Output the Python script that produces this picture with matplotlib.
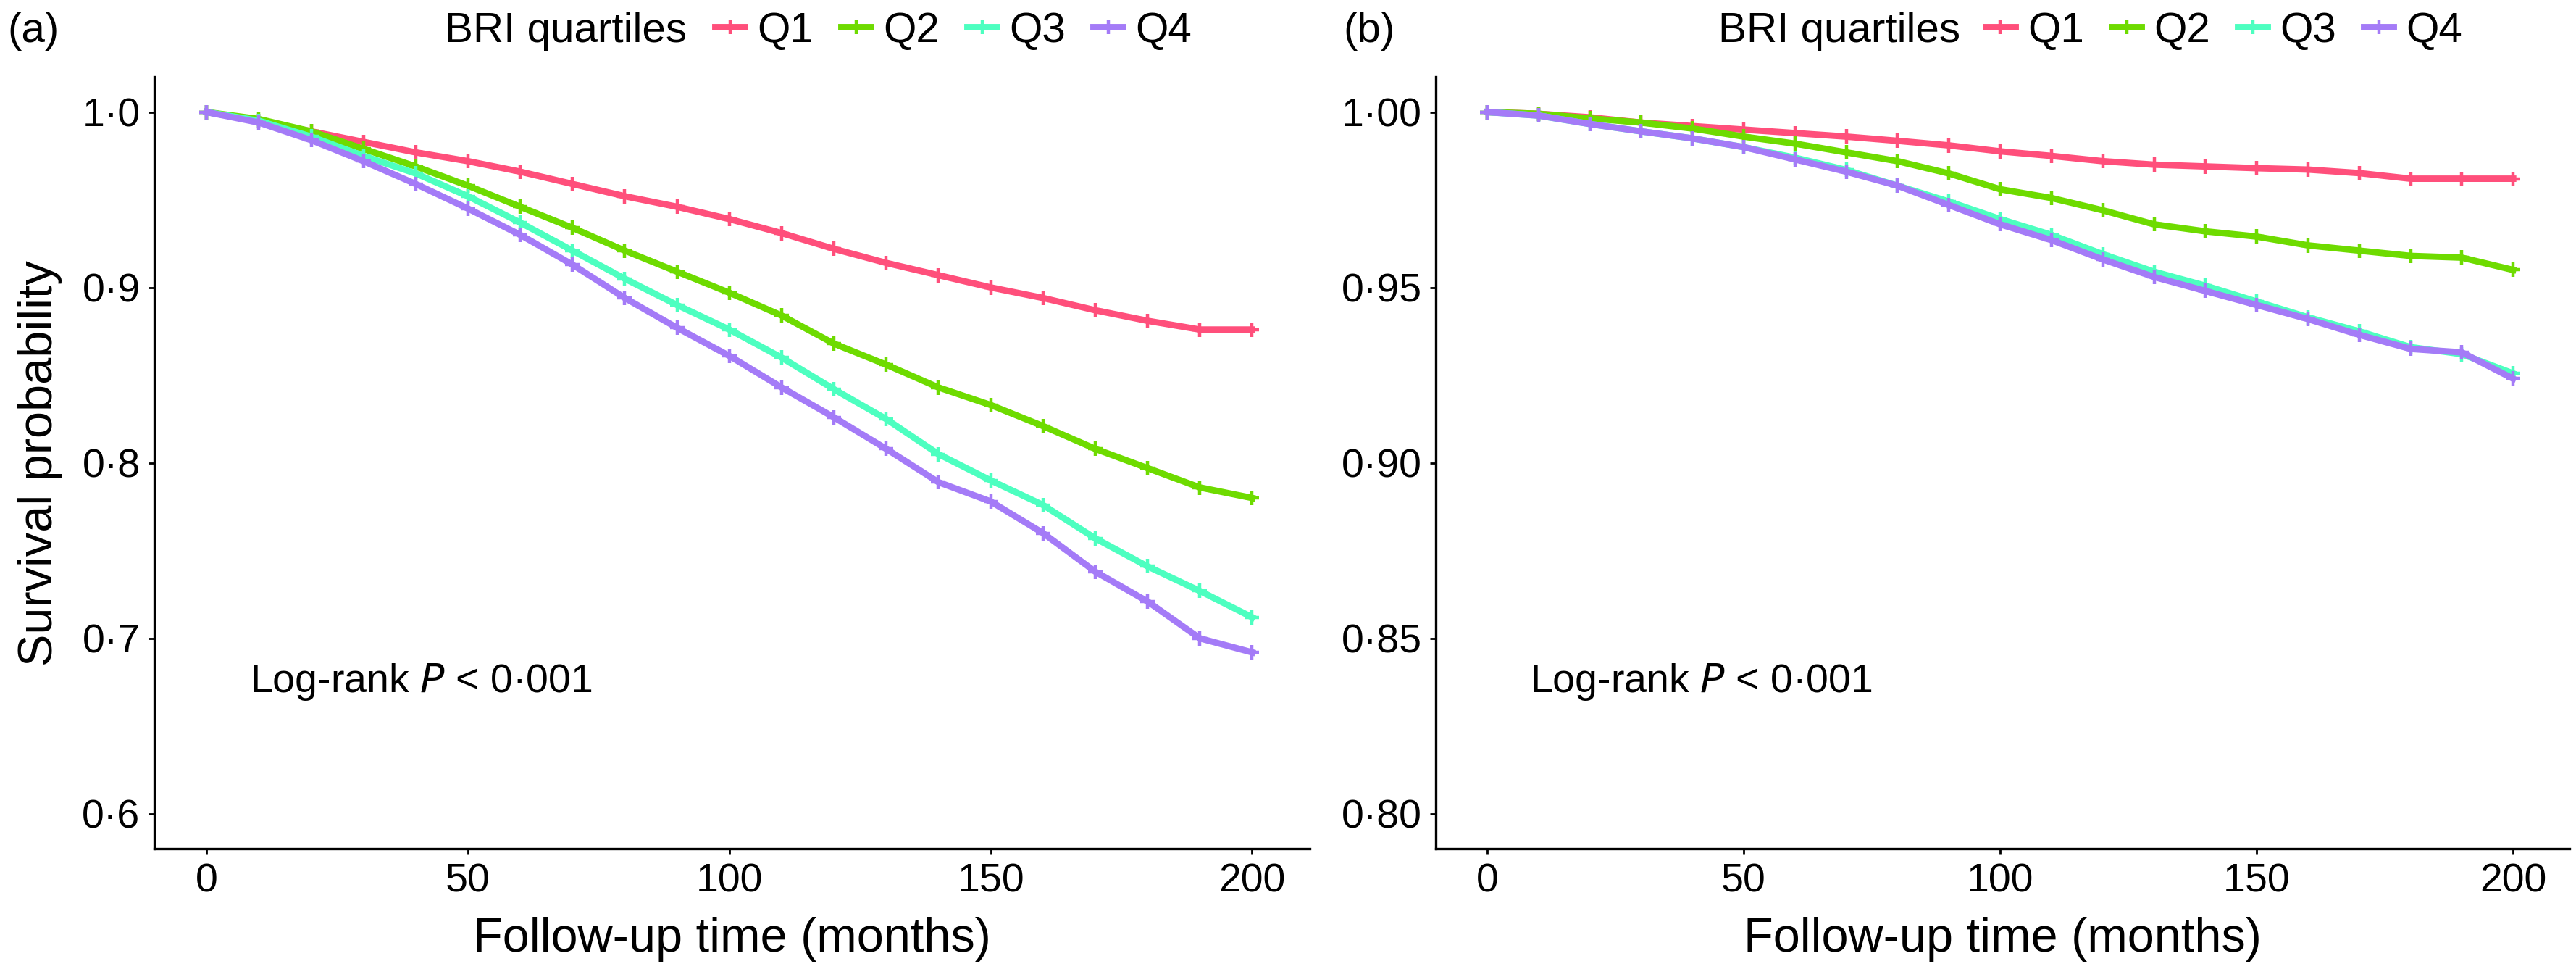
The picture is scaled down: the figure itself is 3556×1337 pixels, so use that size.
import matplotlib
matplotlib.use("Agg")
import matplotlib.pyplot as plt

plt.rcParams["font.family"] = ["Liberation Sans", "DejaVu Sans"]

# follow-up time (months)
months = [0, 10, 20, 30, 40, 50, 60, 70, 80, 90, 100,
          110, 120, 130, 140, 150, 160, 170, 180, 190, 200]

groups = ["Q1", "Q2", "Q3", "Q4"]
colors = ["#FF4F7B", "#6EDB00", "#4DFFC0", "#A47BF7"]

# panel (a)
surv_a_q1 = [1.000, 0.995, 0.989, 0.983, 0.977, 0.972, 0.966, 0.959, 0.952, 0.946, 0.939,
             0.931, 0.922, 0.914, 0.907, 0.900, 0.894, 0.887, 0.881, 0.876, 0.876]
surv_a_q2 = [1.000, 0.996, 0.989, 0.979, 0.969, 0.958, 0.946, 0.934, 0.921, 0.909, 0.897,
             0.884, 0.868, 0.856, 0.843, 0.833, 0.821, 0.808, 0.797, 0.786, 0.780]
surv_a_q3 = [1.000, 0.995, 0.986, 0.975, 0.965, 0.952, 0.937, 0.921, 0.905, 0.890, 0.876,
             0.860, 0.842, 0.825, 0.805, 0.790, 0.776, 0.757, 0.741, 0.727, 0.712]
surv_a_q4 = [1.000, 0.994, 0.984, 0.972, 0.959, 0.945, 0.930, 0.913, 0.894, 0.877, 0.861,
             0.843, 0.826, 0.808, 0.789, 0.778, 0.760, 0.738, 0.721, 0.700, 0.692]

# panel (b)
surv_b_q1 = [1.000, 0.9995, 0.9985, 0.997, 0.996, 0.995, 0.994, 0.993, 0.9918, 0.9905, 0.9888,
             0.9875, 0.986, 0.985, 0.9845, 0.984, 0.9836, 0.9826, 0.981, 0.981, 0.981]
surv_b_q2 = [1.000, 0.9995, 0.9982, 0.997, 0.9953, 0.993, 0.991, 0.9885, 0.986, 0.9825, 0.978,
             0.9755, 0.972, 0.968, 0.966, 0.9645, 0.962, 0.9605, 0.959, 0.9585, 0.955]
surv_b_q3 = [1.000, 0.999, 0.9966, 0.9945, 0.9925, 0.990, 0.987, 0.9835, 0.979, 0.9745, 0.9695,
             0.965, 0.9595, 0.9545, 0.9505, 0.946, 0.9415, 0.9375, 0.933, 0.931, 0.9255]
surv_b_q4 = [1.000, 0.999, 0.9966, 0.9945, 0.9925, 0.990, 0.9865, 0.983, 0.979, 0.9735, 0.968,
             0.9635, 0.958, 0.953, 0.949, 0.945, 0.941, 0.9365, 0.9325, 0.9315, 0.924]

yticks_a = [0.6, 0.7, 0.8, 0.9, 1.0]
ytick_labels_a = ["0·6", "0·7", "0·8", "0·9", "1·0"]
yticks_b = [0.80, 0.85, 0.90, 0.95, 1.00]
ytick_labels_b = ["0·80", "0·85", "0·90", "0·95", "1·00"]
xticks = [0, 50, 100, 150, 200]


def draw_panel(ax, curves, ylim, yticks, ylabels):
    handles = []
    for name, col, s in zip(groups, colors, curves):
        h, = ax.plot(months, s, color=col, lw=3.2, marker="+", ms=7,
                     mew=1.6, label=name)
        handles.append(h)
    ax.set_xlim(-10, 211)
    ax.set_ylim(*ylim)
    ax.set_xticks(xticks)
    ax.set_yticks(yticks)
    ax.set_yticklabels(ylabels)
    for side in ["top", "right"]:
        ax.spines[side].set_visible(False)
    for side in ["left", "bottom"]:
        ax.spines[side].set_linewidth(1.2)
    ax.tick_params(labelsize=20, length=3, width=1.0, pad=4, colors="black")
    ax.set_xlabel("Follow-up time (months)", fontsize=24, labelpad=8)
    ax.text(0.083, 0.216, "Log-rank $\\it{P}$ < 0·001", transform=ax.transAxes,
            fontsize=20, va="center", ha="left")
    return handles


fig = plt.figure(figsize=(17.78, 6.685), dpi=200)
ax1 = fig.add_axes([0.0599, 0.124, 0.4485, 0.7966])
ax2 = fig.add_axes([0.5574, 0.124, 0.4401, 0.7966])

h1 = draw_panel(ax1, [surv_a_q1, surv_a_q2, surv_a_q3, surv_a_q4],
                (0.58, 1.02), yticks_a, ytick_labels_a)
h2 = draw_panel(ax2, [surv_b_q1, surv_b_q2, surv_b_q3, surv_b_q4],
                (0.79, 1.01), yticks_b, ytick_labels_b)
ax1.set_ylabel("Survival probability", fontsize=24, labelpad=10)

# panel tags and legends along the top
for tag, tx, lx, kx, hs in [("(a)", 0.003, 0.1727, 0.2776, h1),
                            ("(b)", 0.5214, 0.667, 0.7708, h2)]:
    fig.text(tx, 0.968, tag, fontsize=21, va="center", ha="left")
    fig.text(lx, 0.968, "BRI quartiles", fontsize=21, va="center", ha="left")
    leg = fig.legend(handles=hs, labels=groups, ncol=4, frameon=False,
                     loc="center left", bbox_to_anchor=(kx, 0.968),
                     borderaxespad=0, borderpad=0, fontsize=21,
                     handlelength=0.7, handletextpad=0.3, columnspacing=0.65)

fig.savefig("out.png", dpi=200)
